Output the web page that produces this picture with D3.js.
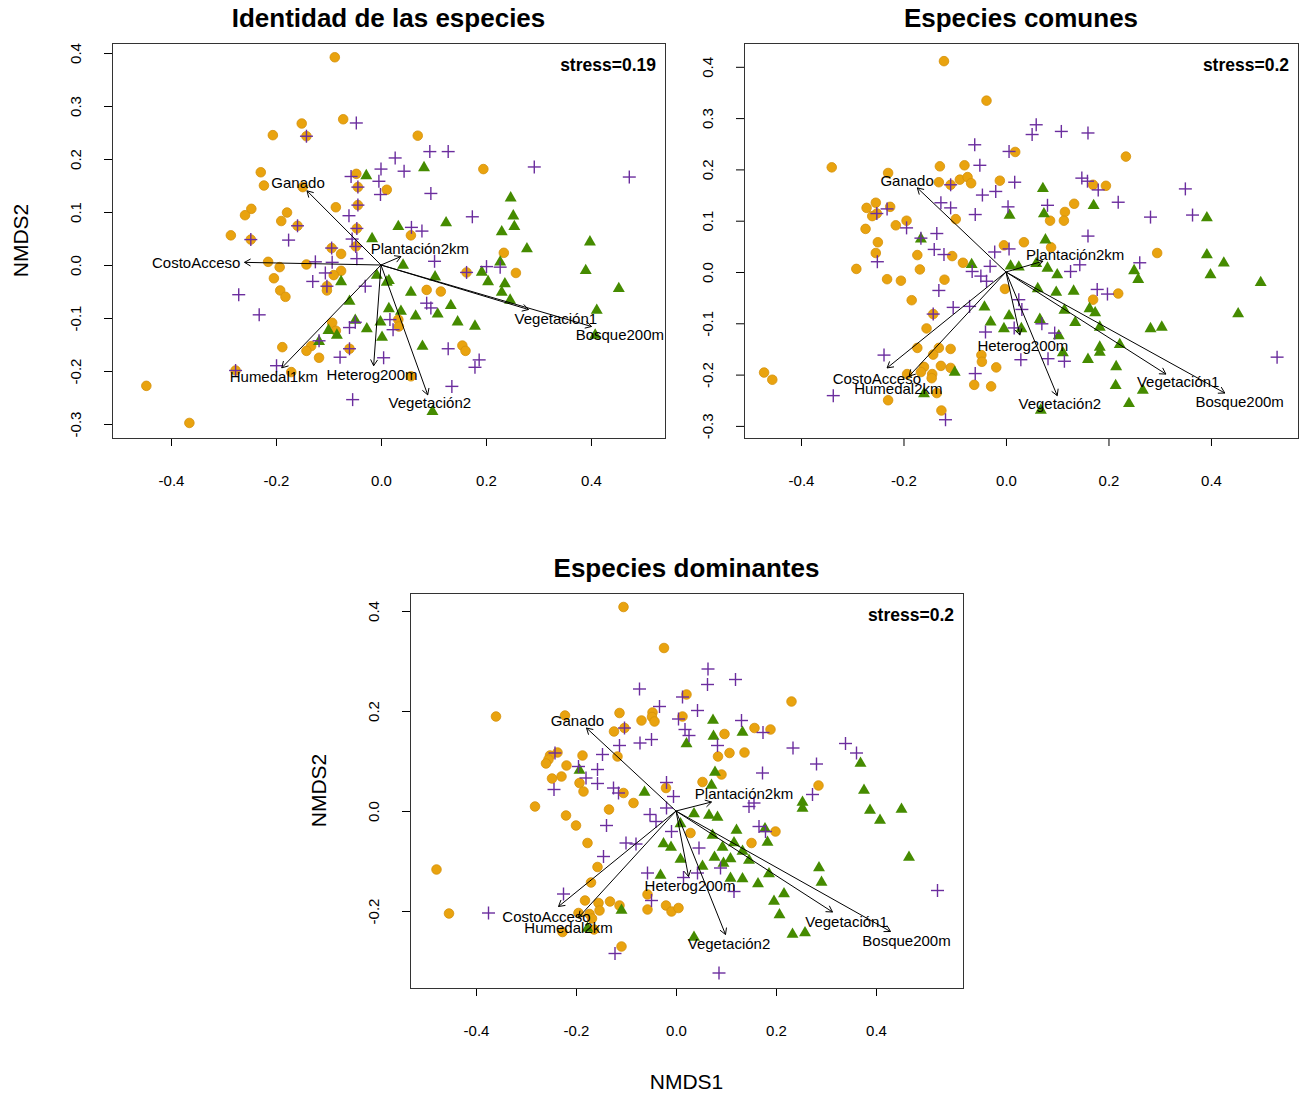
<!DOCTYPE html>
<html>
<head>
<meta charset="utf-8">
<script src="https://cdn.jsdelivr.net/npm/d3@7"></script>
<style>
  html, body { margin: 0; padding: 0; background: #fff; }
  svg { display: block; font-family: "Liberation Sans", Arial, sans-serif; }
</style>
</head>
<body>
<svg id="chart" width="1308" height="1093"></svg>
<script>
// ---------------- DATA ----------------
const xTicks = [-0.4, -0.2, 0.0, 0.2, 0.4];
const yTicksTop = [-0.3, -0.2, -0.1, 0.0, 0.1, 0.2, 0.3, 0.4];
const yTicksBottom = [-0.2, 0.0, 0.2, 0.4];

const titles = ["Identidad de las especies", "Especies comunes", "Especies dominantes"];
const stressLabels = ["stress=0.19", "stress=0.2", "stress=0.2"];

const envNames1 = ["Ganado", "CostoAcceso", "Plantación2km", "Vegetación1", "Bosque200m", "Humedal1km", "Heterog200m", "Vegetación2"];
const envNames23 = ["Ganado", "CostoAcceso", "Plantación2km", "Vegetación1", "Bosque200m", "Humedal2km", "Heterog200m", "Vegetación2"];

// Panel 1 - Identidad de las especies
const p1Orange = [[-0.088,0.392],[-0.072,0.275],[-0.151,0.267],[-0.142,0.243],[-0.206,0.245],[-0.229,0.175],[-0.223,0.150],[-0.149,0.147],[-0.247,0.106],[-0.259,0.094],[-0.179,0.099],[-0.190,0.083],[-0.159,0.074],[-0.286,0.056],[-0.248,0.048],[-0.086,0.109],[-0.047,0.172],[-0.044,0.147],[0.011,0.142],[-0.044,0.113],[-0.046,0.069],[0.070,0.244],[0.195,0.181],[0.057,0.056],[-0.094,0.032],[-0.076,0.021],[-0.048,0.035],[-0.215,0.006],[-0.193,-0.004],[-0.142,0.001],[-0.204,-0.025],[-0.192,-0.048],[-0.182,-0.060],[-0.076,-0.011],[-0.090,-0.019],[-0.103,-0.040],[-0.103,-0.048],[-0.093,-0.109],[-0.086,-0.124],[-0.133,-0.153],[-0.142,-0.162],[-0.188,-0.155],[-0.118,-0.175],[-0.060,-0.158],[-0.277,-0.199],[-0.171,-0.202],[-0.447,-0.228],[-0.365,-0.298],[0.234,0.023],[0.163,-0.014],[0.257,-0.015],[0.087,-0.047],[0.114,-0.050],[0.033,-0.103],[0.034,-0.116],[0.155,-0.152],[0.161,-0.162],[0.057,-0.210]];
const p1Purple = [[-0.047,0.268],[-0.142,0.243],[-0.159,0.074],[-0.248,0.048],[-0.176,0.047],[-0.057,0.167],[0.000,0.181],[-0.004,0.158],[-0.044,0.147],[-0.001,0.133],[-0.044,0.113],[-0.061,0.093],[-0.046,0.069],[-0.055,0.049],[0.027,0.202],[0.093,0.214],[0.128,0.214],[0.044,0.177],[0.292,0.185],[0.473,0.166],[0.095,0.135],[0.174,0.091],[0.058,0.071],[0.078,0.064],[-0.094,0.032],[-0.048,0.035],[-0.046,0.012],[-0.125,0.006],[-0.271,-0.056],[-0.232,-0.094],[-0.130,-0.031],[-0.106,-0.015],[-0.093,0.005],[-0.103,-0.040],[-0.030,-0.040],[-0.049,-0.108],[-0.060,-0.118],[-0.118,-0.143],[-0.060,-0.158],[-0.078,-0.174],[0.005,-0.175],[-0.199,-0.190],[-0.277,-0.199],[-0.054,-0.254],[0.102,0.007],[0.163,-0.014],[0.201,-0.003],[0.227,-0.004],[0.087,-0.072],[0.095,-0.081],[0.017,-0.103],[0.023,-0.122],[0.128,-0.158],[0.187,-0.179],[0.179,-0.193],[0.135,-0.229]];
const p1Green = [[-0.028,0.170],[-0.017,0.051],[0.082,0.185],[0.247,0.128],[0.124,0.081],[0.252,0.094],[0.254,0.074],[0.230,0.064],[0.033,0.074],[0.398,0.045],[-0.076,-0.030],[-0.008,-0.018],[0.011,-0.031],[-0.060,-0.067],[0.015,-0.081],[-0.049,-0.103],[-0.027,-0.119],[-0.001,-0.106],[0.002,-0.135],[-0.100,-0.122],[-0.084,-0.131],[-0.118,-0.143],[0.278,0.032],[0.042,0.001],[0.227,0.007],[0.192,-0.012],[0.390,-0.009],[0.204,-0.030],[0.236,-0.034],[0.230,-0.050],[0.246,-0.065],[0.453,-0.043],[0.103,-0.021],[0.015,-0.028],[0.057,-0.050],[0.108,-0.091],[0.133,-0.075],[0.066,-0.095],[0.038,-0.086],[0.146,-0.106],[0.179,-0.114],[0.411,-0.084],[0.408,-0.131],[0.079,-0.152],[0.098,-0.275]];
const p1ArrowX = [-0.141, -0.260, 0.038, 0.281, 0.401, -0.189, -0.014, 0.089];
const p1ArrowY = [0.140, 0.005, 0.016, -0.084, -0.116, -0.194, -0.190, -0.245];
const p1LabelX = [-0.158, -0.352, 0.074, 0.333, 0.455, -0.204, -0.017, 0.093];
const p1LabelY = [0.155, 0.004, 0.032, -0.100, -0.131, -0.210, -0.206, -0.260];

// Panel 2 - Especies comunes
const p2Orange = [[-0.121,0.411],[-0.038,0.334],[-0.340,0.204],[0.018,0.234],[-0.129,0.206],[-0.081,0.208],[-0.230,0.193],[-0.131,0.175],[-0.108,0.170],[-0.090,0.180],[-0.075,0.185],[-0.068,0.173],[-0.012,0.178],[-0.098,0.103],[-0.254,0.135],[-0.272,0.125],[-0.252,0.114],[-0.226,0.127],[-0.261,0.109],[-0.194,0.100],[-0.215,0.091],[-0.274,0.084],[-0.250,0.058],[0.234,0.225],[0.170,0.170],[0.195,0.168],[0.133,0.133],[0.115,0.117],[0.086,0.100],[0.113,0.100],[0.035,0.058],[-0.254,0.037],[-0.292,0.006],[-0.173,0.033],[-0.168,0.005],[-0.105,0.031],[-0.084,0.018],[-0.004,0.052],[-0.232,-0.014],[-0.205,-0.017],[-0.120,-0.015],[-0.184,-0.055],[-0.002,-0.033],[-0.142,-0.082],[-0.155,-0.110],[-0.173,-0.148],[-0.131,-0.148],[-0.108,-0.150],[-0.142,-0.161],[-0.048,-0.162],[-0.047,-0.175],[-0.019,-0.186],[-0.127,-0.183],[-0.108,-0.187],[-0.160,-0.185],[-0.166,-0.195],[-0.144,-0.199],[-0.145,-0.207],[-0.193,-0.199],[-0.135,-0.236],[-0.230,-0.250],[-0.126,-0.270],[-0.062,-0.220],[-0.029,-0.223],[-0.472,-0.196],[-0.456,-0.210],[0.088,0.048],[0.295,0.037],[0.219,-0.042],[0.170,-0.054]];
const p2Purple = [[-0.061,0.248],[0.006,0.235],[-0.051,0.208],[-0.108,0.170],[0.017,0.175],[-0.020,0.157],[-0.046,0.150],[0.004,0.127],[-0.060,0.112],[-0.127,0.135],[-0.108,0.125],[-0.252,0.114],[-0.232,0.123],[-0.194,0.086],[-0.135,0.075],[-0.166,0.066],[0.059,0.287],[0.051,0.268],[0.108,0.274],[0.160,0.271],[0.148,0.183],[0.159,0.177],[0.180,0.160],[0.219,0.136],[0.081,0.130],[0.350,0.162],[0.282,0.107],[0.364,0.111],[0.160,0.070],[-0.251,0.020],[-0.140,0.044],[-0.121,0.034],[-0.066,0.001],[-0.049,-0.008],[-0.031,0.011],[-0.022,0.039],[0.006,0.045],[-0.131,-0.036],[-0.038,-0.018],[-0.103,-0.069],[-0.071,-0.067],[-0.142,-0.082],[-0.040,-0.117],[0.016,-0.109],[-0.238,-0.162],[-0.060,-0.198],[-0.118,-0.288],[-0.337,-0.241],[0.029,-0.171],[0.261,0.018],[0.144,0.014],[0.126,0.001],[0.178,-0.034],[0.198,-0.043],[0.070,-0.101],[0.095,-0.119],[0.082,-0.169],[0.114,-0.174],[0.031,-0.073],[0.025,-0.054],[0.529,-0.166]];
const p2Green = [[0.007,0.112],[-0.166,0.066],[0.072,0.164],[0.171,0.131],[0.074,0.115],[0.392,0.107],[0.077,0.064],[-0.067,0.016],[0.009,0.013],[0.025,0.011],[-0.042,-0.067],[-0.030,-0.096],[0.006,-0.084],[-0.004,-0.109],[-0.100,-0.194],[-0.160,-0.236],[0.392,0.035],[0.425,0.019],[0.399,-0.004],[0.497,-0.019],[0.250,0.004],[0.258,-0.013],[0.081,0.009],[0.100,-0.004],[0.059,0.018],[0.062,-0.031],[0.098,-0.038],[0.132,-0.036],[0.163,-0.070],[0.174,-0.078],[0.114,-0.073],[0.135,-0.097],[0.183,-0.106],[0.453,-0.080],[0.282,-0.109],[0.304,-0.106],[0.222,-0.140],[0.183,-0.145],[0.183,-0.155],[0.160,-0.169],[0.215,-0.183],[0.214,-0.220],[0.267,-0.229],[0.240,-0.255],[0.066,-0.091],[0.103,-0.123],[0.111,-0.156],[0.030,-0.109],[0.068,-0.268]];
const p2ArrowX = [-0.173, -0.232, 0.072, 0.312, 0.427, -0.189, 0.027, 0.100];
const p2ArrowY = [0.164, -0.187, 0.021, -0.199, -0.236, -0.203, -0.123, -0.241];
const p2LabelX = [-0.193, -0.252, 0.135, 0.336, 0.456, -0.210, 0.033, 0.105];
const p2LabelY = [0.179, -0.207, 0.034, -0.214, -0.252, -0.227, -0.144, -0.257];

// Panel 3 - Especies dominantes
const p3Orange = [[-0.105,0.408],[-0.024,0.326],[-0.360,0.189],[0.021,0.233],[-0.222,0.191],[-0.113,0.196],[-0.069,0.181],[-0.047,0.197],[-0.048,0.188],[-0.043,0.179],[0.013,0.189],[-0.124,0.159],[-0.103,0.166],[-0.187,0.111],[-0.117,0.109],[-0.237,0.117],[-0.252,0.111],[-0.255,0.103],[-0.260,0.095],[-0.219,0.091],[-0.248,0.065],[-0.229,0.069],[-0.193,0.056],[-0.105,0.036],[-0.020,0.046],[-0.185,0.039],[0.231,0.219],[0.157,0.166],[0.189,0.163],[0.097,0.154],[0.084,0.109],[0.107,0.116],[0.137,0.117],[0.091,0.073],[0.053,0.058],[0.285,0.051],[-0.085,0.016],[-0.282,0.009],[-0.220,-0.009],[-0.200,-0.029],[-0.134,0.003],[-0.177,-0.064],[-0.157,-0.112],[-0.170,-0.143],[-0.057,-0.167],[-0.057,-0.197],[-0.020,-0.189],[-0.009,-0.201],[0.005,-0.194],[-0.182,-0.179],[-0.155,-0.184],[-0.153,-0.199],[-0.132,-0.181],[-0.113,-0.189],[-0.195,-0.204],[-0.173,-0.206],[-0.168,-0.215],[-0.227,-0.242],[-0.164,-0.237],[-0.109,-0.271],[-0.479,-0.117],[-0.454,-0.205],[0.029,-0.044],[0.199,-0.041],[0.151,-0.064]];
const p3Purple = [[-0.073,0.244],[-0.033,0.209],[0.013,0.228],[0.005,0.184],[-0.103,0.166],[-0.113,0.131],[-0.072,0.136],[-0.049,0.143],[0.018,0.163],[-0.147,0.113],[-0.242,0.116],[-0.195,0.089],[-0.180,0.066],[-0.157,0.083],[-0.157,0.055],[-0.125,0.046],[-0.019,0.057],[-0.244,0.043],[0.064,0.284],[0.063,0.253],[0.119,0.263],[0.043,0.201],[0.131,0.181],[0.174,0.157],[0.026,0.151],[0.083,0.131],[0.234,0.126],[0.339,0.135],[0.361,0.116],[0.281,0.094],[0.173,0.076],[-0.115,0.036],[-0.005,0.029],[-0.139,-0.029],[-0.052,-0.007],[-0.040,-0.021],[-0.019,0.006],[-0.009,-0.041],[-0.100,-0.064],[-0.080,-0.066],[-0.145,-0.091],[-0.057,-0.124],[0.015,-0.133],[-0.049,-0.179],[-0.225,-0.166],[-0.122,-0.285],[-0.375,-0.204],[0.273,0.033],[0.146,0.009],[0.156,0.016],[0.166,-0.031],[0.179,-0.041],[0.046,-0.074],[0.089,-0.114],[0.043,-0.124],[0.116,-0.161],[0.523,-0.159],[0.086,-0.324]];
const p3Green = [[0.021,0.136],[-0.193,0.083],[-0.063,0.039],[0.074,0.183],[0.133,0.159],[0.075,0.151],[0.369,0.097],[0.078,0.079],[0.071,0.053],[0.376,0.043],[0.009,-0.024],[-0.025,-0.064],[-0.010,-0.071],[0.009,-0.095],[-0.031,-0.127],[-0.109,-0.197],[-0.177,-0.233],[0.253,0.019],[0.253,0.007],[0.388,0.003],[0.451,0.005],[0.408,-0.017],[0.466,-0.091],[0.036,-0.004],[0.066,-0.007],[0.083,-0.011],[0.073,-0.047],[0.121,-0.037],[0.178,-0.034],[0.183,-0.061],[0.116,-0.062],[0.093,-0.071],[0.133,-0.079],[0.146,-0.097],[0.077,-0.091],[0.109,-0.094],[0.095,-0.103],[0.053,-0.109],[0.109,-0.133],[0.133,-0.134],[0.164,-0.144],[0.186,-0.124],[0.286,-0.112],[0.291,-0.141],[0.216,-0.164],[0.196,-0.179],[0.207,-0.206],[0.233,-0.245],[0.258,-0.242],[0.036,-0.251]];
const p3ArrowX = [-0.179, -0.235, 0.071, 0.313, 0.429, -0.195, 0.025, 0.099];
const p3ArrowY = [0.166, -0.191, 0.018, -0.202, -0.241, -0.213, -0.131, -0.247];
const p3LabelX = [-0.197, -0.259, 0.136, 0.341, 0.461, -0.215, 0.028, 0.106];
const p3LabelY = [0.181, -0.211, 0.036, -0.221, -0.259, -0.233, -0.148, -0.264];

// ---------------- LAYOUT / STYLE ----------------
const colOrange = "#E9A30F", colOrangeStroke = "#D4910B";
const colPurple = "#6B2D9E";
const colGreen = "#458B00";

const panels = [
  { title: titles[0], stress: stressLabels[0], left: 112, right: 665, top: 43, bottom: 438,
    xDomain: [-0.5124, 0.5410], yDomain: [-0.3264, 0.4189], yTicks: yTicksTop,
    orange: p1Orange, purple: p1Purple, green: p1Green,
    names: envNames1, ax: p1ArrowX, ay: p1ArrowY, lx: p1LabelX, ly: p1LabelY, yLabel: true, xLabel: false },
  { title: titles[1], stress: stressLabels[1], left: 744, right: 1298, top: 43, bottom: 438,
    xDomain: [-0.5112, 0.5698], yDomain: [-0.3236, 0.4464], yTicks: yTicksTop,
    orange: p2Orange, purple: p2Purple, green: p2Green,
    names: envNames23, ax: p2ArrowX, ay: p2ArrowY, lx: p2LabelX, ly: p2LabelY, yLabel: false, xLabel: false },
  { title: titles[2], stress: stressLabels[2], left: 410, right: 963, top: 593, bottom: 988,
    xDomain: [-0.532, 0.574], yDomain: [-0.354, 0.436], yTicks: yTicksBottom,
    orange: p3Orange, purple: p3Purple, green: p3Green,
    names: envNames23, ax: p3ArrowX, ay: p3ArrowY, lx: p3LabelX, ly: p3LabelY, yLabel: true, xLabel: true }
];

const svg = d3.select("#chart");
svg.append("rect").attr("width", 1308).attr("height", 1093).attr("fill", "#fff");

const fmt = d => (Math.abs(d) < 1e-9 ? 0 : d).toFixed(1);

function drawPanel(p) {
  const g = svg.append("g");
  const x = d3.scaleLinear().domain(p.xDomain).range([p.left, p.right]);
  const y = d3.scaleLinear().domain(p.yDomain).range([p.bottom, p.top]);

  // x axis
  const xa = g.append("g").attr("transform", `translate(0,${p.bottom})`)
    .call(d3.axisBottom(x).tickValues(xTicks).tickFormat(fmt).tickSize(8).tickPadding(29));
  xa.select(".domain").remove();
  xa.selectAll("line").attr("stroke", "#000");
  xa.selectAll("text").attr("font-size", 15).attr("fill", "#000")
    .attr("font-family", "Liberation Sans, Arial, sans-serif");

  // y axis
  const ya = g.append("g").attr("transform", `translate(${p.left},0)`)
    .call(d3.axisLeft(y).tickValues(p.yTicks).tickFormat(fmt).tickSize(8));
  ya.select(".domain").remove();
  ya.selectAll("line").attr("stroke", "#000");
  ya.selectAll("text")
    .attr("x", null).attr("dy", null)
    .attr("text-anchor", "middle")
    .attr("dominant-baseline", "central")
    .attr("transform", "translate(-37,0) rotate(-90)")
    .attr("font-size", 15).attr("fill", "#000")
    .attr("font-family", "Liberation Sans, Arial, sans-serif");

  // points
  const pts = g.append("g");
  pts.selectAll("circle").data(p.orange).join("circle")
    .attr("cx", d => x(d[0])).attr("cy", d => y(d[1])).attr("r", 4.8)
    .attr("fill", colOrange).attr("stroke", colOrangeStroke).attr("stroke-width", 0.8);

  const tri = d3.symbol().type(d3.symbolTriangle).size(62);
  pts.selectAll("path.tri").data(p.green).join("path").attr("class", "tri")
    .attr("d", tri)
    .attr("transform", d => `translate(${x(d[0])},${y(d[1]) + 0.8})`)
    .attr("fill", colGreen);

  const cr = 6.5;
  const crosses = pts.selectAll("g.cross").data(p.purple).join("g").attr("class", "cross")
    .attr("transform", d => `translate(${x(d[0])},${y(d[1])})`);
  crosses.append("line").attr("x1", -cr).attr("x2", cr).attr("y1", 0).attr("y2", 0)
    .attr("stroke", colPurple).attr("stroke-width", 1.4);
  crosses.append("line").attr("y1", -cr).attr("y2", cr).attr("x1", 0).attr("x2", 0)
    .attr("stroke", colPurple).attr("stroke-width", 1.4);

  // env arrows
  const arr = g.append("g");
  const x0 = x(0), y0 = y(0);
  p.names.forEach((name, i) => {
    const tx = x(p.ax[i]), ty = y(p.ay[i]);
    arr.append("line").attr("x1", x0).attr("y1", y0).attr("x2", tx).attr("y2", ty)
      .attr("stroke", "#000").attr("stroke-width", 1);
    const ang = Math.atan2(ty - y0, tx - x0);
    const hl = 7, ha = Math.PI / 6;
    [ang + Math.PI - ha, ang + Math.PI + ha].forEach(a => {
      arr.append("line").attr("x1", tx).attr("y1", ty)
        .attr("x2", tx + hl * Math.cos(a)).attr("y2", ty + hl * Math.sin(a))
        .attr("stroke", "#000").attr("stroke-width", 1);
    });
  });
  p.names.forEach((name, i) => {
    arr.append("text").attr("x", x(p.lx[i])).attr("y", y(p.ly[i]))
      .attr("text-anchor", "middle").attr("dominant-baseline", "central")
      .attr("font-size", 15).attr("fill", "#000").text(name);
  });

  // box
  g.append("rect").attr("x", p.left + 0.5).attr("y", p.top + 0.5)
    .attr("width", p.right - p.left).attr("height", p.bottom - p.top)
    .attr("fill", "none").attr("stroke", "#333").attr("stroke-width", 1);

  // stress
  g.append("text").attr("x", p.right - 9).attr("y", p.top + 28)
    .attr("text-anchor", "end").attr("font-weight", "bold").attr("font-size", 17.5)
    .attr("fill", "#000").text(p.stress);

  // title
  g.append("text").attr("x", (p.left + p.right) / 2).attr("y", p.top - 16)
    .attr("text-anchor", "middle").attr("font-weight", "bold").attr("font-size", 26)
    .attr("fill", "#000").text(p.title);

  if (p.yLabel) {
    g.append("text")
      .attr("transform", `translate(${p.left - 92},${(p.top + p.bottom) / 2}) rotate(-90)`)
      .attr("text-anchor", "middle").attr("dominant-baseline", "central")
      .attr("font-size", 21).attr("fill", "#000").text("NMDS2");
  }
  if (p.xLabel) {
    g.append("text").attr("x", (p.left + p.right) / 2).attr("y", p.bottom + 93)
      .attr("text-anchor", "middle").attr("dominant-baseline", "central")
      .attr("font-size", 21).attr("fill", "#000").text("NMDS1");
  }
}

panels.forEach(drawPanel);
</script>
</body>
</html>
